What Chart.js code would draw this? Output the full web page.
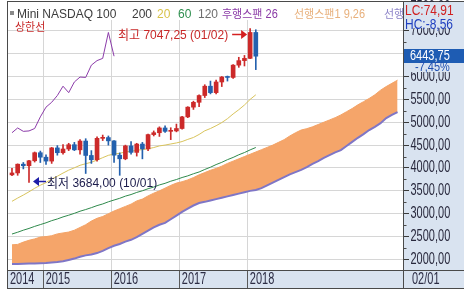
<!DOCTYPE html>
<html><head><meta charset="utf-8">
<script src="https://cdn.jsdelivr.net/npm/chart.js@4/dist/chart.umd.min.js"></script>
<style>html,body{margin:0;padding:0;background:#fff;overflow:hidden}</style>
</head><body>
<canvas id="c" width="464" height="300" style="display:block;width:464px;height:300px"></canvas>
<script>
// ---- data (monthly, Mini NASDAQ 100) ----
const months = ['2014/07','2014/08','2014/09','2014/10','2014/11','2014/12',
 '2015/01','2015/02','2015/03','2015/04','2015/05','2015/06','2015/07','2015/08','2015/09','2015/10','2015/11','2015/12',
 '2016/01','2016/02','2016/03','2016/04','2016/05','2016/06','2016/07','2016/08','2016/09','2016/10','2016/11','2016/12',
 '2017/01','2017/02','2017/03','2017/04','2017/05','2017/06','2017/07','2017/08','2017/09','2017/10','2017/11','2017/12',
 '2018/01','2018/02'];
const openP  = [3850,3892,4083,4050,4158,4334,4236,4151,4439,4334,4415,4509,4397,4589,4274,4181,4648,4665,4593,4280,4201,4483,4341,4523,4418,4730,4771,4875,4801,4810,4863,5117,5330,5436,5584,5788,5647,5880,5988,5979,6248,6347,6396,6962.5];
const highP  = [3990,4090,4120,4170,4350,4370,4290,4450,4490,4510,4540,4560,4620,4640,4380,4680,4720,4700,4600,4330,4500,4580,4540,4560,4740,4810,4900,4920,4880,4960,5130,5340,5460,5600,5820,5900,5920,6000,6010,6260,6420,6460,7047.25,7022];
const lowP   = [3830,3840,3980,3684,4130,4120,4080,4100,4280,4300,4380,4380,4300,3880,4100,4150,4600,4500,4120,3840,4180,4300,4260,4200,4380,4700,4690,4780,4620,4790,4850,5100,5280,5340,5540,5620,5620,5780,5900,5960,6200,6230,6390,6150];
const closeP = [3892,4083,4050,4158,4334,4236,4151,4439,4334,4415,4509,4397,4589,4274,4181,4648,4665,4593,4280,4201,4483,4341,4523,4418,4730,4771,4875,4801,4810,4863,5117,5330,5436,5584,5788,5647,5880,5988,5979,6248,6347,6396,6962.5,6443.75];
const ma20 = [3272,3343,3409,3480,3556,3623,3681,3758,3820,3889,3953,4004,4059,4093,4126,4173,4226,4277,4304,4321,4351,4364,4388,4401,4420,4447,4483,4501,4525,4548,4578,4625,4667,4733,4813,4863,4924,4993,5078,5181,5274,5377,5499,5600];
const ma60 = [2557,2596,2641,2679,2724,2763,2802,2849,2886,2931,2968,3009,3055,3092,3133,3178,3214,3261,3300,3338,3385,3420,3466,3502,3547,3583,3630,3665,3711,3748,3792,3828,3874,3913,3968,4017,4075,4124,4182,4231,4289,4338,4396,4448];
const lagSpan = [4771,4875,4801,4810,4863,5117,5330,5436,5584,5788,5647,5880,5988,5979,6248,6347,6396,6962.5,6443.75];
const leadSpan1 = [2320,2330,2380,2420,2450,2490,2500,2520,2560,2580,2600,2640,2700,2760,2840,2900,2940,3000,3060,3110,3160,3210,3280,3320,3390,3450,3500,3560,3620,3670,3700,3740,3790,3850,3900,3950,3990,4040,4100,4150,4200,4250,4300,4350,4400,4450,4500,4560,4620,4700,4770,4830,4860,4900,4950,5000,5050,5100,5160,5230,5300,5380,5450,5520,5600,5700,5780,5850,5920];
const leadSpan2 = [1900,1900,1905,1910,1915,1920,1925,1935,1945,1960,1990,2020,2060,2090,2110,2140,2190,2250,2300,2340,2390,2430,2490,2560,2630,2700,2760,2800,2880,2960,3040,3110,3180,3235,3260,3290,3320,3350,3380,3410,3440,3470,3500,3520,3560,3620,3680,3740,3800,3860,3910,3960,4020,4090,4150,4220,4280,4340,4390,4480,4570,4660,4740,4830,4900,4980,5090,5160,5220];
const legendItems = ['Mini NASDAQ 100','200','20','60','120','후행스팬 26','선행스팬1 9,26','선행'];
const upperLabel = '상한선';
const highNote = {index: 42, value: 7047.25, date: '01/02', text: '최고'};
const lowNote  = {index: 3,  value: 3684.00, date: '10/01', text: '최저'};
const lcValue = 'LC:74,91', hcValue = 'HC:-8,56';
const currentDate = '02/01';
const yStep = 500;

// ---- styles ----
const RED = '#cc2a2a', BLUE = '#2461ae', PANEL = '#d9e3f0', LINE = '#4a4a4a', GRID = '#d6d6d6';
const FONT = '"Liberation Sans", Arial, "Noto Sans CJK KR", sans-serif';
const candleCol = months.map((m, i) => closeP[i] >= openP[i] ? RED : BLUE);
const fmt = v => v.toFixed(2).replace('.', ',');
const pts = arr => arr.map((v, i) => ({x: i, y: v}));

function txt(ctx, s, x, y, size, color, sy, align, base) {
  ctx.save();
  ctx.translate(x, y); ctx.scale(1, sy || 1);
  ctx.font = size + 'px ' + FONT; ctx.fillStyle = color;
  ctx.textAlign = align || 'left'; ctx.textBaseline = base || 'alphabetic';
  ctx.fillText(s, 0, 0);
  ctx.restore();
}
function seg(ctx, x1, y1, x2, y2) { ctx.beginPath(); ctx.moveTo(x1, y1); ctx.lineTo(x2, y2); ctx.stroke(); }

const deco = {
  id: 'deco',
  beforeDraw(chart) {
    const ctx = chart.ctx, a = chart.chartArea;
    ctx.save();
    ctx.fillStyle = '#fff'; ctx.fillRect(0, 0, 464, 300);
    ctx.fillStyle = PANEL;
    ctx.fillRect(a.right, 1, 464 - a.right, a.bottom + 18 - 1);
    ctx.fillRect(a.left, a.bottom, a.right - a.left, 18);
    ctx.restore();
  },
  afterDraw(chart) {
    const ctx = chart.ctx, a = chart.chartArea, xs = chart.scales.x, ys = chart.scales.y;
    const band = a.bottom + 18;
    const last = closeP.length - 1;
    const py = Math.round(ys.getPixelForValue(closeP[last]));
    ctx.save();
    // legend strip
    ctx.fillStyle = '#fff'; ctx.fillRect(a.left + 1, 2, a.right - a.left - 1, 18);
    ctx.fillStyle = '#8a8a8a'; ctx.fillRect(10, 11, 4, 4);
    const lx = [17, 132, 157, 178, 198, 222, 294, 384];
    const lc = ['#3c3c3c', '#3c3c3c', '#d8c24a', '#2f8f4f', '#6e6e6e', '#8a3aa6', '#e8b07c', '#8d84c8'];
    const ls = [12, 12, 12, 12, 12, 11, 11, 11];
    ctx.save(); ctx.beginPath(); ctx.rect(a.left, 0, a.right - a.left, 30); ctx.clip();
    legendItems.forEach((s, i) => txt(ctx, s, lx[i], 18, ls[i], lc[i], 1.08));
    ctx.restore();
    txt(ctx, upperLabel, 15, 31, 11, '#c82828', 1.05);
    // borders
    ctx.strokeStyle = LINE; ctx.lineWidth = 1;
    seg(ctx, 7.5, 1, 7.5, band + 1);
    seg(ctx, 7, 1.5, 464, 1.5);
    seg(ctx, 7, a.bottom + 0.5, 464, a.bottom + 0.5);
    seg(ctx, 7, band + 0.5, 464, band + 0.5);
    seg(ctx, a.right + 0.5, 1, a.right + 0.5, band);
    // minor y ticks
    ys.ticks.forEach(t => {
      const v = t.value + yStep / 2;
      if (v < ys.max) { const y = Math.round(ys.getPixelForValue(v)) + 0.5; seg(ctx, a.right, y, a.right + 3.5, y); }
    });
    // y labels (the one under the price box is hidden)
    ys.ticks.forEach(t => {
      const y = ys.getPixelForValue(t.value);
      if (Math.abs(y - py) < 8) return;
      txt(ctx, fmt(t.value), a.right + 7.5, y, 11, '#28283c', 1.45, 'left', 'middle');
    });
    // x labels
    const yearIdx = months.map((m, i) => m.endsWith('/01') || i === 0 ? i : -1).filter(i => i >= 0);
    yearIdx.forEach((i) => {
      const x = i === 0 ? a.left + 3 : xs.getPixelForValue(i - 0.5) + 2.5;
      txt(ctx, months[i].slice(0, 4), x, a.bottom + 9.5, 11, '#2c2c44', 1.45, 'left', 'middle');
    });
    txt(ctx, currentDate, a.right + 9, a.bottom + 9.5, 11, '#2c2c44', 1.45, 'left', 'middle');
    // high annotation
    const hx = xs.getPixelForValue(highNote.index), hy = ys.getPixelForValue(highNote.value);
    const tipX = hx - 3, ay = Math.round(hy + 5) + 0.5;
    ctx.strokeStyle = '#d42020'; ctx.fillStyle = '#d42020'; ctx.lineWidth = 1.5;
    seg(ctx, tipX - 15, ay, tipX - 5, ay);
    ctx.beginPath(); ctx.moveTo(tipX, ay); ctx.lineTo(tipX - 6, ay - 4.5); ctx.lineTo(tipX - 6, ay + 4.5); ctx.closePath(); ctx.fill();
    txt(ctx, highNote.text + ' ' + fmt(highNote.value) + ' (' + highNote.date + ')', tipX - 19, ay + 4.5, 12, '#c82828', 1.05, 'right');
    // low annotation
    const wx = xs.getPixelForValue(lowNote.index), wy = ys.getPixelForValue(lowNote.value);
    const ltip = wx + 4, ly = Math.round(wy - 1.5) + 0.5;
    ctx.strokeStyle = '#1e1ea8'; ctx.fillStyle = '#1e1ea8'; ctx.lineWidth = 1.5;
    ctx.beginPath(); ctx.moveTo(ltip, ly); ctx.lineTo(ltip + 6, ly - 4.5); ctx.lineTo(ltip + 6, ly + 4.5); ctx.closePath(); ctx.fill();
    seg(ctx, ltip + 5, ly, ltip + 13, ly);
    txt(ctx, lowNote.text + ' ' + fmt(lowNote.value) + ' (' + lowNote.date + ')', ltip + 14, ly + 5, 12, '#1c1c4c', 1.05, 'left');
    // current price box
    ctx.fillStyle = '#1e5cb3'; ctx.fillRect(a.right + 1, py - 7, 464 - a.right, 14);
    txt(ctx, fmt(closeP[last]), a.right + 7, py, 11, '#ffffff', 1.4, 'left', 'middle');
    ctx.fillStyle = PANEL; ctx.fillRect(a.right + 1, py + 7, 464 - a.right, 9);
    const pct = ((closeP[last] / closeP[last - 1] - 1) * 100).toFixed(2).replace('.', ',') + '%';
    txt(ctx, pct, a.right + 12, py + 12, 11, '#1f4fb0', 1.15, 'left', 'middle');
    // LC / HC
    ctx.fillStyle = PANEL; ctx.fillRect(a.right + 1, 2, 464 - a.right, 26);
    txt(ctx, lcValue, a.right + 2, 15, 12, '#d02020', 1.2);
    txt(ctx, hcValue, a.right + 2, 28.5, 12, '#2040c0', 1.2);
    ctx.restore();
  }
};

const ctxEl = document.getElementById('c');
new Chart(ctxEl, {
  type: 'bar',
  data: {
    datasets: [
      {type: 'bar', label: 'wick', data: months.map((m, i) => ({x: i, y: [lowP[i], highP[i]]})),
        backgroundColor: candleCol, barThickness: 1, grouped: false, borderWidth: 0, order: 0},
      {type: 'bar', label: 'body', data: months.map((m, i) => ({x: i, y: [openP[i], closeP[i]]})),
        backgroundColor: candleCol, barThickness: 4, grouped: false, borderWidth: 0, minBarLength: 1, order: 0},
      {type: 'line', label: 'MA20', data: pts(ma20), borderColor: '#d9c45c', borderWidth: 1, pointRadius: 0, order: 1},
      {type: 'line', label: 'MA60', data: pts(ma60), borderColor: '#2f8a4c', borderWidth: 1, pointRadius: 0, order: 1},
      {type: 'line', label: 'lag', data: pts(lagSpan), borderColor: '#8c3caa', borderWidth: 1, pointRadius: 0, order: 1},
      {type: 'line', label: 'span1', data: pts(leadSpan1), borderColor: '#f4a366', backgroundColor: '#f5a56a',
        borderWidth: 1, pointRadius: 0, fill: '+1', order: 3},
      {type: 'line', label: 'span2', data: pts(leadSpan2), borderColor: '#7f76c6', borderWidth: 2, pointRadius: 0, order: 2}
    ]
  },
  options: {
    responsive: false, animation: false, devicePixelRatio: 1,
    layout: {padding: {left: 7, top: 1, right: 0, bottom: 12}},
    plugins: {legend: {display: false}, tooltip: {enabled: false}},
    scales: {
      x: {type: 'linear', min: -0.88, max: 68.96, offset: false,
        afterBuildTicks: s => { s.ticks = months.map((m, i) => m.endsWith('/01') ? {value: i - 0.5} : null).filter(Boolean); },
        afterFit: s => { s.height = 18; },
        ticks: {display: false},
        grid: {color: GRID, tickLength: 18, tickColor: '#5a5a5a', offset: false},
        border: {display: true, color: LINE}},
      y: {type: 'linear', position: 'right', min: 1770.5, max: 7650, beginAtZero: false,
        afterBuildTicks: s => {
          const t = [];
          for (let v = Math.ceil(s.min / yStep) * yStep; v <= s.max; v += yStep) t.push({value: v});
          s.ticks = t;
        },
        afterFit: s => { s.width = 61; },
        ticks: {display: false},
        grid: {color: GRID, tickLength: 6, tickColor: '#3a3a3a'},
        border: {display: true, color: LINE}}
    }
  },
  plugins: [deco]
});
</script>
</body></html>
